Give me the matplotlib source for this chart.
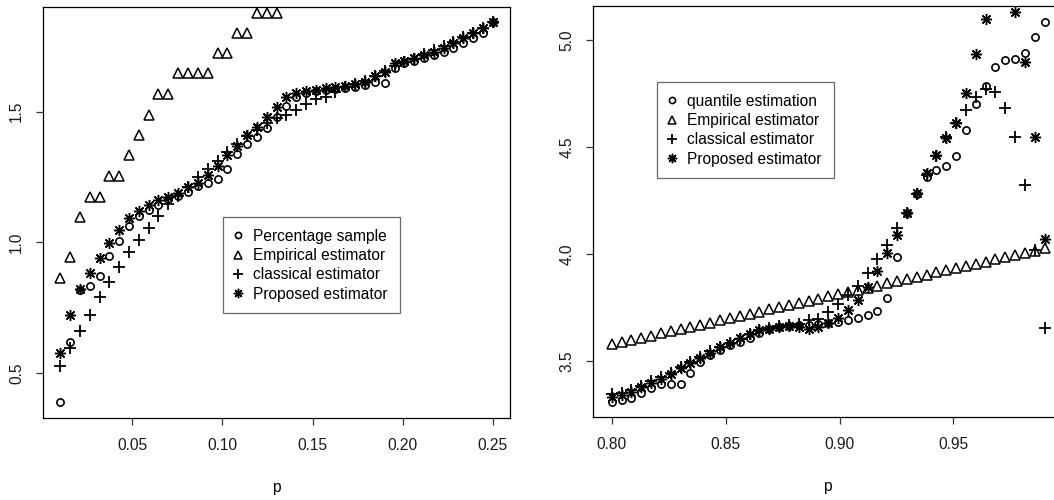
import numpy as np
import matplotlib
matplotlib.use("Agg")
import matplotlib.pyplot as plt
from matplotlib.lines import Line2D

plt.rcParams['font.family'] = ['Liberation Sans', 'DejaVu Sans']
FS = 11.2

# ---------------- Left panel data ----------------
p_left = [0.0100, 0.0155, 0.0209, 0.0264, 0.0318, 0.0373, 0.0427, 0.0482, 0.0536,
          0.0591, 0.0645, 0.0700, 0.0755, 0.0809, 0.0864, 0.0918, 0.0973, 0.1027,
          0.1082, 0.1136, 0.1191, 0.1245, 0.1300, 0.1355, 0.1409, 0.1464, 0.1518,
          0.1573, 0.1627, 0.1682, 0.1736, 0.1791, 0.1845, 0.1900, 0.1955, 0.2009,
          0.2064, 0.2118, 0.2173, 0.2227, 0.2282, 0.2336, 0.2391, 0.2445, 0.2500]

percentage_sample = [0.392, 0.621, 0.820, 0.834, 0.872, 0.948, 1.007, 1.063, 1.100,
                     1.125, 1.145, 1.165, 1.178, 1.192, 1.215, 1.228, 1.242, 1.279,
                     1.338, 1.376, 1.404, 1.437, 1.478, 1.520, 1.555, 1.572, 1.578,
                     1.582, 1.586, 1.590, 1.595, 1.600, 1.612, 1.607, 1.666, 1.684,
                     1.694, 1.703, 1.716, 1.728, 1.741, 1.760, 1.779, 1.800, 1.840]

# empirical estimator (the rest lies above the plotting region)
empirical_left = [0.866, 0.943, 1.096, 1.173, 1.173, 1.254, 1.254, 1.334, 1.410,
                  1.488, 1.567, 1.567, 1.646, 1.646, 1.646, 1.646, 1.722, 1.722,
                  1.800, 1.800, 1.877, 1.877, 1.877]

classical_left = [0.529, 0.597, 0.663, 0.723, 0.791, 0.850, 0.907, 0.962, 1.010,
                  1.056, 1.101, 1.147, 1.178, 1.213, 1.251, 1.280, 1.310, 1.345,
                  1.375, 1.405, 1.430, 1.455, 1.474, 1.487, 1.506, 1.529, 1.547,
                  1.556, 1.575, 1.592, 1.605, 1.618, 1.635, 1.655, 1.675, 1.690,
                  1.700, 1.718, 1.735, 1.750, 1.765, 1.785, 1.800, 1.820, 1.840]

proposed_left = [0.577, 0.723, 0.822, 0.885, 0.942, 0.997, 1.048, 1.093, 1.122,
                 1.143, 1.162, 1.175, 1.190, 1.213, 1.226, 1.258, 1.293, 1.334,
                 1.368, 1.410, 1.440, 1.478, 1.518, 1.556, 1.572, 1.579, 1.582,
                 1.588, 1.592, 1.597, 1.605, 1.614, 1.636, 1.652, 1.684, 1.694,
                 1.703, 1.716, 1.728, 1.741, 1.760, 1.779, 1.798, 1.817, 1.840]

# ---------------- Right panel data ----------------
p_right = [0.8000, 0.8043, 0.8086, 0.8130, 0.8173, 0.8216, 0.8259, 0.8302, 0.8345,
           0.8389, 0.8432, 0.8475, 0.8518, 0.8561, 0.8605, 0.8648, 0.8691, 0.8734,
           0.8777, 0.8820, 0.8864, 0.8907, 0.8950, 0.8993, 0.9036, 0.9080, 0.9123,
           0.9166, 0.9209, 0.9252, 0.9295, 0.9339, 0.9382, 0.9425, 0.9468, 0.9511,
           0.9555, 0.9598, 0.9641, 0.9684, 0.9727, 0.9770, 0.9814, 0.9857, 0.9900]

quantile_est = [3.310, 3.318, 3.328, 3.352, 3.376, 3.393, 3.393, 3.393, 3.445,
                3.497, 3.528, 3.551, 3.575, 3.590, 3.606, 3.629, 3.648, 3.657,
                3.664, 3.668, 3.670, 3.672, 3.676, 3.684, 3.690, 3.700, 3.715,
                3.735, 3.796, 3.987, 4.190, 4.280, 4.360, 4.395, 4.410, 4.458,
                4.579, 4.700, 4.785, 4.872, 4.908, 4.912, 4.938, 5.013, 5.086]

empirical_right = [3.578, 3.588, 3.598, 3.608, 3.619, 3.629, 3.639, 3.649, 3.659,
                   3.670, 3.680, 3.690, 3.700, 3.710, 3.720, 3.731, 3.741, 3.751,
                   3.761, 3.771, 3.781, 3.792, 3.802, 3.812, 3.822, 3.832, 3.843,
                   3.853, 3.863, 3.873, 3.883, 3.893, 3.904, 3.914, 3.924, 3.934,
                   3.944, 3.955, 3.965, 3.975, 3.985, 3.995, 4.006, 4.016, 4.026]

classical_right = [3.345, 3.350, 3.365, 3.385, 3.405, 3.425, 3.445, 3.470, 3.495,
                   3.520, 3.545, 3.565, 3.585, 3.605, 3.625, 3.645, 3.655, 3.665,
                   3.670, 3.675, 3.692, 3.697, 3.730, 3.766, 3.808, 3.850, 3.910,
                   3.975, 4.042, 4.120, 4.190, 4.280, 4.370, 4.460, 4.545, 4.610,
                   4.673, 4.735, 4.770, 4.755, 4.683, 4.545, 4.322, 4.020, 3.653]

proposed_right = [3.333, 3.341, 3.357, 3.380, 3.399, 3.414, 3.439, 3.466, 3.492,
                  3.516, 3.539, 3.564, 3.586, 3.606, 3.625, 3.645, 3.652, 3.660,
                  3.664, 3.660, 3.652, 3.660, 3.676, 3.700, 3.738, 3.785, 3.847,
                  3.922, 4.003, 4.089, 4.190, 4.284, 4.377, 4.463, 4.540, 4.614,
                  4.754, 4.935, 5.098, np.nan, np.nan, 5.133, 4.898, 4.546, 4.069]

labels_left = ["Percentage sample", "Empirical estimator", "classical estimator", "Proposed estimator"]
labels_right = ["quantile estimation", "Empirical estimator", "classical estimator", "Proposed estimator"]

# ---------------- styles ----------------
STAR = (8, 2, 0)
sty = [
    dict(marker='o', ms=5.2, mew=1.2, mfc='none', mec='black', ls='none'),
    dict(marker='^', ms=7.5, mew=1.1, mfc='none', mec='black', ls='none'),
    dict(marker='+', ms=9.0, mew=1.3, mec='black', ls='none'),
    dict(marker=STAR, ms=8.0, mew=1.05, mec='black', ls='none'),
]

W, H = 1054, 500
fig = plt.figure(figsize=(W / 100, H / 100), dpi=100)


def px_axes(x0, y0, x1, y1):
    return fig.add_axes([x0 / W, 1 - y1 / H, (x1 - x0) / W, (y1 - y0) / H])


axL = px_axes(43, 7, 510, 418)
axR = px_axes(593.3, 6, 1061, 416.7)


def style_axis(ax, xt, xtl, yt, ytl):
    for s in ax.spines.values():
        s.set_linewidth(0.9)
        s.set_color('black')
    ax.set_xticks(xt)
    ax.set_xticklabels(xtl, fontsize=FS, color='#1a1a1a')
    ax.set_yticks(yt)
    ax.set_yticklabels(ytl, fontsize=FS, color='#1a1a1a', rotation=90, va='center')
    ax.tick_params(axis='both', direction='out', length=5.2, width=0.9, color='#333333')
    ax.tick_params(axis='x', pad=9.5)
    ax.tick_params(axis='y', pad=8.5)
    ax.set_xlabel('p', fontsize=FS, labelpad=19)


def legend(ax, labels, anchor):
    handles = [Line2D([], [], **{**s, 'ms': s['ms'] * 0.85}) for s in sty]
    leg = ax.legend(handles, labels, loc='upper left', bbox_to_anchor=anchor,
                    bbox_transform=fig.transFigure, fontsize=FS, frameon=True,
                    fancybox=False, edgecolor='#444444', borderpad=0.75,
                    handlelength=0.4, handletextpad=0.8, labelspacing=0.28,
                    borderaxespad=0.0)
    leg.get_frame().set_linewidth(0.9)
    return leg


# Left panel
axL.plot(p_left, percentage_sample, **sty[0])
axL.plot(p_left[:len(empirical_left)], empirical_left, **sty[1])
axL.plot(p_left, classical_left, **sty[2])
axL.plot(p_left, proposed_left, **sty[3])
axL.set_xlim(0.0004, 0.2596)
axL.set_ylim(0.33, 1.899)
style_axis(axL, [0.05, 0.10, 0.15, 0.20, 0.25], ['0.05', '0.10', '0.15', '0.20', '0.25'],
           [0.5, 1.0, 1.5], ['0.5', '1.0', '1.5'])
legend(axL, labels_left, (223 / W, 1 - 217 / H))

# Right panel
axR.plot(p_right, quantile_est, **sty[0])
axR.plot(p_right, empirical_right, **sty[1])
axR.plot(p_right, classical_right, **sty[2])
axR.plot(p_right, proposed_right, **sty[3])
axR.set_xlim(0.7919, 0.9972)
axR.set_ylim(3.24, 5.159)
style_axis(axR, [0.80, 0.85, 0.90, 0.95], ['0.80', '0.85', '0.90', '0.95'],
           [3.5, 4.0, 4.5, 5.0], ['3.5', '4.0', '4.5', '5.0'])
legend(axR, labels_right, (657 / W, 1 - 82 / H))

fig.savefig('out.png', dpi=100)
